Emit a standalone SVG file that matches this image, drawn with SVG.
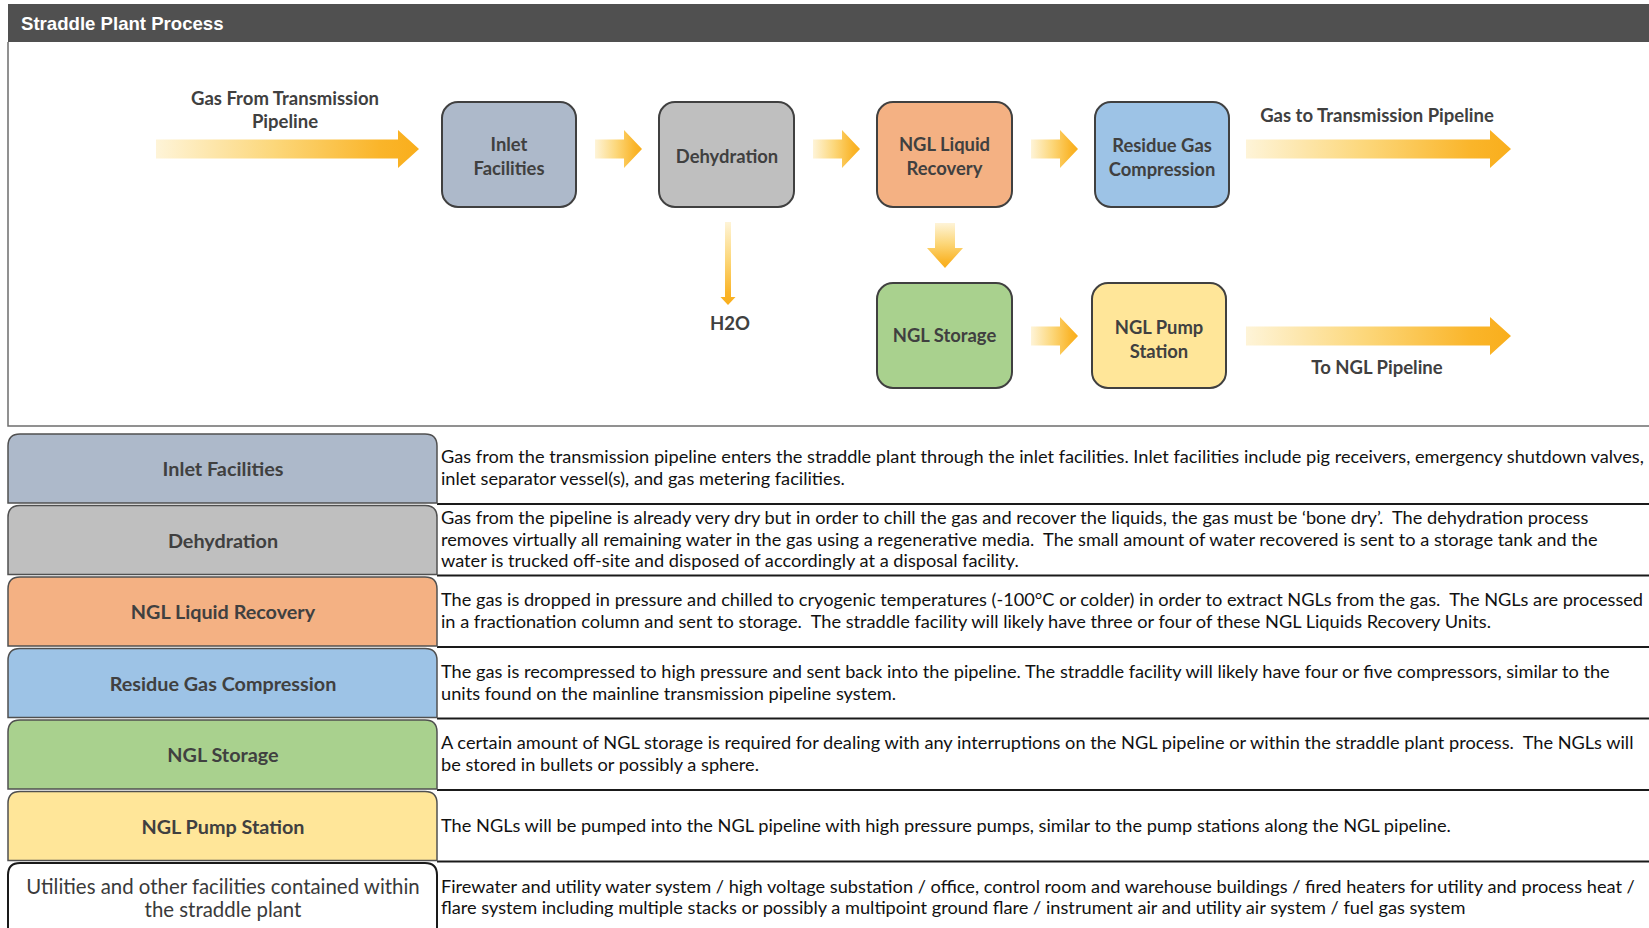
<svg xmlns="http://www.w3.org/2000/svg" width="1649" height="928" viewBox="0 0 1649 928">
<defs>
<linearGradient id="gh" x1="0" y1="0" x2="1" y2="0">
<stop offset="0" stop-color="#fef4d8"/>
<stop offset="0.45" stop-color="#fcd77a"/>
<stop offset="0.85" stop-color="#fab52a"/>
<stop offset="1" stop-color="#f9ae1c"/>
</linearGradient>
<linearGradient id="gv" x1="0" y1="0" x2="0" y2="1">
<stop offset="0" stop-color="#fef4d8"/>
<stop offset="0.45" stop-color="#fcd77a"/>
<stop offset="0.85" stop-color="#fab52a"/>
<stop offset="1" stop-color="#f9ae1c"/>
</linearGradient>
<style>
.node{stroke:#404040;stroke-width:2}
.nt{font-family:Lato,"Liberation Sans",sans-serif;font-weight:bold;font-size:18.4px;fill:#404040;text-anchor:middle}
.lbl{font-family:Lato,"Liberation Sans",sans-serif;font-weight:bold;font-size:18.5px;fill:#404040;text-anchor:middle}
.cell{stroke:#505050;stroke-width:1.5}
.ct{font-family:Lato,"Liberation Sans",sans-serif;font-weight:bold;font-size:19.8px;fill:#404040;text-anchor:middle}
.ctr{font-family:Lato,"Liberation Sans",sans-serif;font-size:20.4px;fill:#3a3a3a;text-anchor:middle}
.d{font-family:Lato,"Liberation Sans",sans-serif;font-size:18.2px;fill:#111}
.sep{stroke:#1a1a1a;stroke-width:2;fill:none}
.arr{fill:url(#gh)}
.arrv{fill:url(#gv)}
</style>
</defs>
<rect x="0" y="0" width="1649" height="928" fill="#ffffff"/>

<g id="panel">
<rect x="8" y="4" width="1645" height="38" fill="#505050"/>
<text x="21" y="30" font-family="Liberation Sans, Arial, sans-serif" font-weight="bold" font-size="18.6" fill="#ffffff">Straddle Plant Process</text>
<path d="M8,42 V426 H1652" fill="none" stroke="#6e6e6e" stroke-width="1.5"/>
</g>

<g id="connectors">
<path class="arr" d="M156,139.5 H398 V130 L419,149 L398,168 V158.5 H156 Z"/>
<path class="arr" d="M595,139.5 H624 V130 L642,149 L624,168 V158.5 H595 Z"/>
<path class="arr" d="M813,139.5 H842 V130 L860,149 L842,168 V158.5 H813 Z"/>
<path class="arr" d="M1031,139.5 H1060 V130 L1078,149 L1060,168 V158.5 H1031 Z"/>
<path class="arr" d="M1246,139.5 H1490 V130 L1511,149 L1490,168 V158.5 H1246 Z"/>
<path class="arrv" d="M935,223 H955 V248 H963 L945,268 L927,248 H935 Z"/>
<path class="arrv" d="M725,222 H731 V297 H735.5 L728,305 L720.5,297 H725 Z"/>
<path class="arr" d="M1031,326.5 H1060 V317 L1078,336 L1060,355 V345.5 H1031 Z"/>
<path class="arr" d="M1246,326.5 H1490 V317 L1511,336 L1490,355 V345.5 H1246 Z"/>
<text class="lbl" x="285" y="105">Gas From Transmission</text>
<text class="lbl" x="285" y="128">Pipeline</text>
<text class="lbl" x="1377" y="122">Gas to Transmission Pipeline</text>
<text class="lbl" x="1377" y="374">To NGL Pipeline</text>
<text class="lbl" x="730" y="330">H2O</text>
</g>

<g id="inlet">
<rect class="node" x="442" y="102" width="134" height="105" rx="16" fill="#adb9ca"/>
<text class="nt" x="509" y="151">Inlet</text>
<text class="nt" x="509" y="175">Facilities</text>
</g>
<g id="dehydration">
<rect class="node" x="659" y="102" width="135" height="105" rx="16" fill="#bfbfbf"/>
<text class="nt" x="727" y="163">Dehydration</text>
</g>
<g id="ngl-recovery">
<rect class="node" x="877" y="102" width="135" height="105" rx="16" fill="#f4b183"/>
<text class="nt" x="944.5" y="151">NGL Liquid</text>
<text class="nt" x="944.5" y="175">Recovery</text>
</g>
<g id="residue-gas">
<rect class="node" x="1095" y="102" width="134" height="105" rx="16" fill="#9dc3e6"/>
<text class="nt" x="1162" y="152">Residue Gas</text>
<text class="nt" x="1162" y="176">Compression</text>
</g>
<g id="ngl-storage">
<rect class="node" x="877" y="283" width="135" height="105" rx="16" fill="#a9d18e"/>
<text class="nt" x="944.5" y="342">NGL Storage</text>
</g>
<g id="ngl-pump">
<rect class="node" x="1092" y="283" width="134" height="105" rx="16" fill="#ffe699"/>
<text class="nt" x="1159" y="334">NGL Pump</text>
<text class="nt" x="1159" y="358">Station</text>
</g>

<g id="table-lines">
<path class="sep" d="M437,504 H1652 M437,575.5 H1652 M437,647 H1652 M437,718.5 H1652 M437,790 H1652 M437,861.5 H1652"/>
</g>

<g id="row-inlet">
<path class="cell" d="M8,503 V446 Q8,434 20,434 H425 Q437,434 437,446 V503 Z" fill="#adb9ca"/>
<text class="ct" x="223" y="476">Inlet Facilities</text>
<text class="d" xml:space="preserve"><tspan x="441" y="463">Gas from the transmission pipeline enters the straddle plant through the inlet facilities. Inlet facilities include pig receivers, emergency shutdown valves,</tspan><tspan x="441" y="485">inlet separator vessel(s), and gas metering facilities.</tspan></text>
</g>
<g id="row-dehydration">
<path class="cell" d="M8,574.5 V517.5 Q8,505.5 20,505.5 H425 Q437,505.5 437,517.5 V574.5 Z" fill="#bfbfbf"/>
<text class="ct" x="223" y="547.5">Dehydration</text>
<text class="d" xml:space="preserve"><tspan x="441" y="524">Gas from the pipeline is already very dry but in order to chill the gas and recover the liquids, the gas must be ‘bone dry’.  The dehydration process</tspan><tspan x="441" y="546">removes virtually all remaining water in the gas using a regenerative media.  The small amount of water recovered is sent to a storage tank and the</tspan><tspan x="441" y="567">water is trucked off-site and disposed of accordingly at a disposal facility.</tspan></text>
</g>
<g id="row-ngl-recovery">
<path class="cell" d="M8,646 V589 Q8,577 20,577 H425 Q437,577 437,589 V646 Z" fill="#f4b183"/>
<text class="ct" x="223" y="619">NGL Liquid Recovery</text>
<text class="d" xml:space="preserve"><tspan x="441" y="606">The gas is dropped in pressure and chilled to cryogenic temperatures (-100°C or colder) in order to extract NGLs from the gas.  The NGLs are processed</tspan><tspan x="441" y="628">in a fractionation column and sent to storage.  The straddle facility will likely have three or four of these NGL Liquids Recovery Units.</tspan></text>
</g>
<g id="row-residue-gas">
<path class="cell" d="M8,717.5 V660.5 Q8,648.5 20,648.5 H425 Q437,648.5 437,660.5 V717.5 Z" fill="#9dc3e6"/>
<text class="ct" x="223" y="690.5">Residue Gas Compression</text>
<text class="d" xml:space="preserve"><tspan x="441" y="678">The gas is recompressed to high pressure and sent back into the pipeline. The straddle facility will likely have four or five compressors, similar to the</tspan><tspan x="441" y="700">units found on the mainline transmission pipeline system.</tspan></text>
</g>
<g id="row-ngl-storage">
<path class="cell" d="M8,789 V732 Q8,720 20,720 H425 Q437,720 437,732 V789 Z" fill="#a9d18e"/>
<text class="ct" x="223" y="762">NGL Storage</text>
<text class="d" xml:space="preserve"><tspan x="441" y="749">A certain amount of NGL storage is required for dealing with any interruptions on the NGL pipeline or within the straddle plant process.  The NGLs will</tspan><tspan x="441" y="771">be stored in bullets or possibly a sphere.</tspan></text>
</g>
<g id="row-ngl-pump">
<path class="cell" d="M8,860.5 V803.5 Q8,791.5 20,791.5 H425 Q437,791.5 437,803.5 V860.5 Z" fill="#ffe699"/>
<text class="ct" x="223" y="833.5">NGL Pump Station</text>
<text class="d" xml:space="preserve"><tspan x="441" y="832">The NGLs will be pumped into the NGL pipeline with high pressure pumps, similar to the pump stations along the NGL pipeline.</tspan></text>
</g>
<g id="row-utilities">
<path d="M8,932 V875 Q8,863 20,863 H425 Q437,863 437,875 V932" fill="#ffffff" stroke="#1a1a1a" stroke-width="2"/>
<text class="ctr" x="223" y="894">Utilities and other facilities contained within</text>
<text class="ctr" x="223" y="917">the straddle plant</text>
<text class="d" xml:space="preserve"><tspan x="441" y="893">Firewater and utility water system / high voltage substation / office, control room and warehouse buildings / fired heaters for utility and process heat /</tspan><tspan x="441" y="914">flare system including multiple stacks or possibly a multipoint ground flare / instrument air and utility air system / fuel gas system</tspan></text>
</g>
</svg>
